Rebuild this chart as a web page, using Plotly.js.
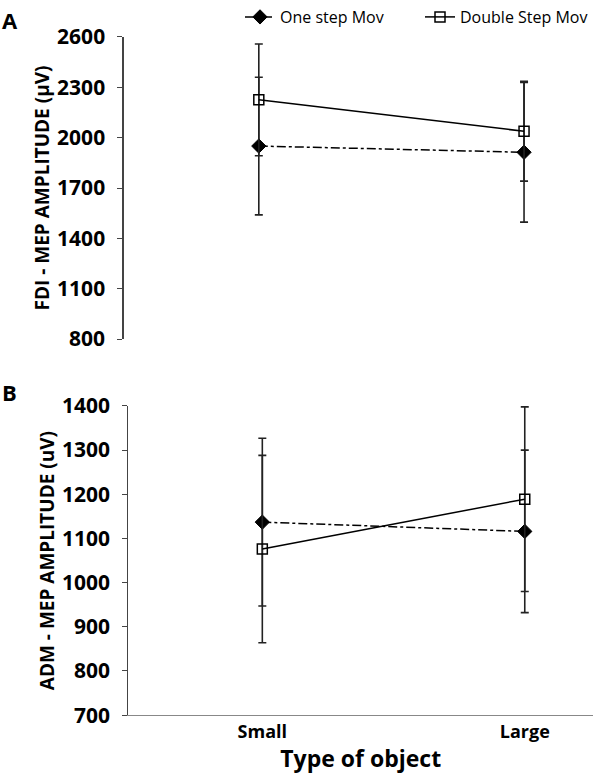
<!DOCTYPE html>
<html>
<head>
<meta charset="utf-8">
<script src="https://cdn.plot.ly/plotly-3.0.1.min.js"></script>
<style>html,body{margin:0;padding:0;background:#fff;}#chart{width:600px;height:774px;}</style>
</head>
<body>
<div id="chart"></div>
<script>
// Data
const categories = ['Small', 'Large'];
const seriesNames = ['One step Mov', 'Double Step Mov'];
const fdiOne = [1950, 1913];
const fdiOneErr = [410, 416];
const fdiDouble = [2225, 2038];
const fdiDoubleErr = [333, 297];
const admOne = [1137, 1116];
const admOneErr = [190, 184];
const admDouble = [1076, 1189];
const admDoubleErr = [212, 209];
const fdiTicks = [800, 1100, 1400, 1700, 2000, 2300, 2600];
const admTicks = [700, 800, 900, 1000, 1100, 1200, 1300, 1400];

const FONT = 'Open Sans, Liberation Sans, sans-serif';
const errStyle = (arr) => ({type: 'data', array: arr, visible: true, color: '#222', thickness: 1.6, width: 4});
const oneStyle = {line: {color: '#000', width: 1.5, dash: 'dashdot'}, marker: {symbol: 'diamond', size: 11, color: '#000', line: {color: '#000', width: 1}}};
const dblStyle = {line: {color: '#000', width: 1.5}, marker: {symbol: 'square-open', size: 10, color: '#000', line: {color: '#000', width: 1.5}}};

const traces = [
  Object.assign({x: categories, y: fdiOne, error_y: errStyle(fdiOneErr), name: seriesNames[0], mode: 'lines+markers', xaxis: 'x', yaxis: 'y'}, oneStyle),
  Object.assign({x: categories, y: fdiDouble, error_y: errStyle(fdiDoubleErr), name: seriesNames[1], mode: 'lines+markers', xaxis: 'x', yaxis: 'y'}, dblStyle),
  Object.assign({x: categories, y: admOne, error_y: errStyle(admOneErr), name: seriesNames[0], mode: 'lines+markers', xaxis: 'x2', yaxis: 'y2', showlegend: false}, oneStyle),
  Object.assign({x: categories, y: admDouble, error_y: errStyle(admDoubleErr), name: seriesNames[1], mode: 'lines+markers', xaxis: 'x2', yaxis: 'y2', showlegend: false}, dblStyle)
];

const yCommon = {
  showgrid: false, zeroline: false, showline: true, linecolor: '#444', linewidth: 1.2,
  ticks: 'outside', ticklen: 5, tickcolor: '#444', automargin: false, ticklabelstandoff: 8,
  tickfont: {family: FONT, size: 21, color: '#000', weight: 'bold'}
};

const layout = {
  width: 600, height: 774,
  margin: {l: 0, r: 0, t: 0, b: 0},
  paper_bgcolor: '#fff', plot_bgcolor: '#fff',
  showlegend: true,
  legend: {orientation: 'h', x: 0.405, y: 1.003, xanchor: 'left', yanchor: 'top',
    font: {family: FONT, size: 16, color: '#000'}, entrywidth: 135, tracegroupgap: 0, bgcolor: 'rgba(0,0,0,0)'},
  xaxis: {domain: [125/600, 1], type: 'category', range: [-0.51, 1.26], showline: false, showticklabels: false,
    ticks: '', showgrid: false, zeroline: false, anchor: 'y'},
  yaxis: Object.assign({}, yCommon, {domain: [1 - 338/774, 1 - 35/774], range: [800, 2600], tickvals: fdiTicks,
    anchor: 'x', title: {text: 'FDI - MEP AMPLITUDE (µV)', font: {family: FONT, size: 19, color: '#000', weight: 'bold'}}}),
  xaxis2: {domain: [130/600, 1], type: 'category', range: [-0.51, 1.26], showline: true, linecolor: '#888', linewidth: 1.2,
    ticks: '', showgrid: false, zeroline: false, anchor: 'y2', automargin: false,
    tickfont: {family: FONT, size: 18, color: '#000', weight: 'bold'},
    title: {text: 'Type of object', font: {family: FONT, size: 23, color: '#000', weight: 'bold'}}},
  yaxis2: Object.assign({}, yCommon, {domain: [1 - 715/774, 1 - 405/774], range: [700, 1400], tickvals: admTicks,
    anchor: 'x2', title: {text: 'ADM - MEP AMPLITUDE (uV)', font: {family: FONT, size: 19, color: '#000', weight: 'bold'}}}),
  annotations: [
    {text: 'A', xref: 'paper', yref: 'paper', x: 0, y: 1 - 1/774, xanchor: 'left', yanchor: 'top', showarrow: false,
      font: {family: FONT, size: 22, color: '#000', weight: 'bold'}},
    {text: 'B', xref: 'paper', yref: 'paper', x: 0, y: 1 - 374/774, xanchor: 'left', yanchor: 'top', showarrow: false,
      font: {family: FONT, size: 22, color: '#000', weight: 'bold'}}
  ]
};

Plotly.newPlot('chart', traces, layout, {displayModeBar: false, staticPlot: true});
</script>
</body>
</html>
